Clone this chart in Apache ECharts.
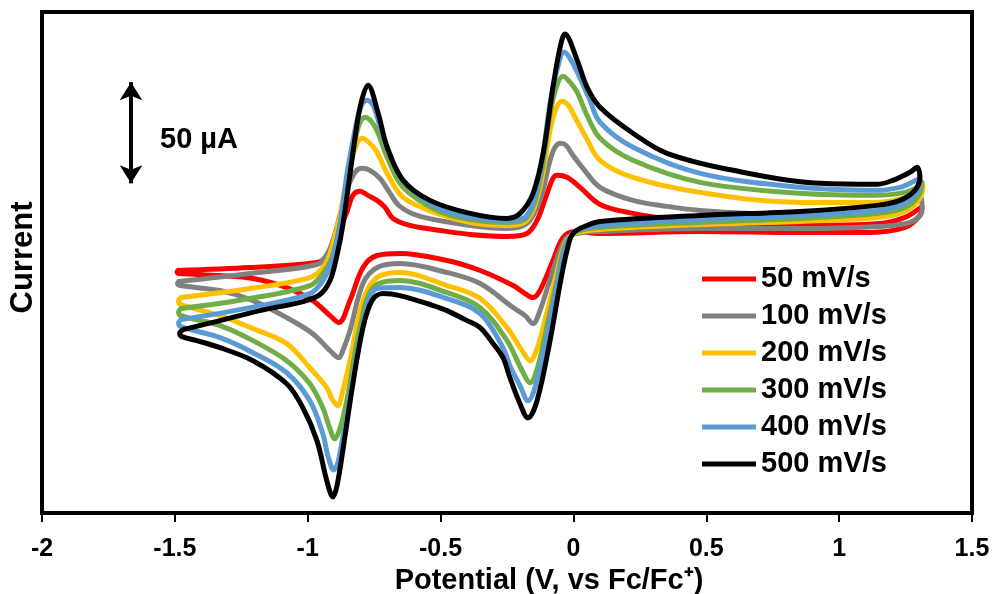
<!DOCTYPE html>
<html>
<head>
<meta charset="utf-8">
<script src="https://cdn.jsdelivr.net/npm/echarts@6/dist/echarts.min.js"></script>
<style>
html,body{margin:0;padding:0;background:#fff;}
#chart{width:995px;height:594px;}
</style>
</head>
<body>
<div id="chart"></div>
<script>
// Scan rates (legend) and colours
const scanRates = ['50 mV/s', '100 mV/s', '200 mV/s', '300 mV/s', '400 mV/s', '500 mV/s'];
const lineColors = ['#FF0000', '#808080', '#FFC000', '#70AD47', '#5B9BD5', '#000000'];

// Axis ticks
const xMin = -2, xMax = 1.5, xStep = 0.5;
const yMin = -140, yMax = 110; // current in µA (no tick labels shown)

// Scale bar: 50 µA
const scaleBarV = -1.665;
const scaleBarI = [24.5, 75];

// Cyclic voltammograms: [potential (V vs Fc/Fc+), current (µA)], forward scan, reverse scan, back to start
const cv50 = [
[-1.488,-19],[-1.217,-17.5],[-0.965,-15],[-0.928,-12],[-0.902,-5.5],[-0.879,2],[-0.853,10],[-0.830,18.5],[-0.803,20.5],[-0.773,18.5],[-0.739,16],[-0.709,12.5],[-0.679,7],[-0.615,3.5],[-0.502,1],[-0.389,-1],[-0.250,-2],[-0.175,-0.5],[-0.137,6],[-0.099,19.5],[-0.077,27],[-0.062,28.5],[-0.024,27.5],[0.025,22.5],[0.100,14],[0.224,9.5],[0.352,7],[0.552,5],[0.853,3.5],[1.153,4.5],[1.248,7.5],[1.312,13],
[1.304,8.5],[1.248,2.5],[1.116,0],[0.853,0],[0.477,0.5],[0.100,-0.5],[0.006,0.5],[-0.039,-2.5],[-0.077,-14],[-0.126,-29],[-0.152,-32.5],[-0.182,-30.5],[-0.227,-26.5],[-0.351,-19],[-0.476,-14],[-0.653,-10.5],[-0.739,-11.5],[-0.792,-17.5],[-0.841,-34],[-0.883,-45],[-0.916,-41.5],[-0.981,-34],[-1.079,-27.5],[-1.206,-23],[-1.330,-21.5],[-1.485,-20.5],[-1.492,-19.8],[-1.488,-19]
];
const cv100 = [
[-1.485,-24.5],[-1.217,-20.5],[-0.965,-16],[-0.928,-11],[-0.905,-4],[-0.879,8.5],[-0.853,21],[-0.822,30],[-0.795,32],[-0.766,31],[-0.728,27],[-0.690,19.5],[-0.653,13],[-0.577,8],[-0.389,3.5],[-0.250,2],[-0.175,4.5],[-0.126,16],[-0.088,36],[-0.069,42.5],[-0.050,44.5],[-0.028,43.5],[-0.002,38.5],[0.036,32],[0.100,22.5],[0.224,16],[0.352,13],[0.477,11],[0.665,9.5],[0.966,8.5],[1.191,9.5],[1.267,12.5],[1.308,17.5],
[1.312,11],[1.267,5],[1.142,3],[0.853,2],[0.477,2],[0.100,0.5],[0.014,-0.5],[-0.028,-3],[-0.062,-13],[-0.095,-26.5],[-0.126,-39],[-0.152,-45.5],[-0.182,-41.5],[-0.227,-37.5],[-0.351,-25.5],[-0.476,-20],[-0.653,-15.5],[-0.739,-17.5],[-0.792,-25.5],[-0.841,-49],[-0.868,-59],[-0.883,-62.5],[-0.916,-59],[-0.981,-50.5],[-1.079,-42.5],[-1.206,-34],[-1.330,-29],[-1.481,-26.5],[-1.490,-25.5],[-1.485,-24.5]
];
const cv200 = [
[-1.477,-32.5],[-1.217,-28],[-0.992,-22.5],[-0.943,-17.5],[-0.916,-10.5],[-0.879,8.5],[-0.853,26],[-0.822,42],[-0.795,47],[-0.766,44.5],[-0.739,40],[-0.701,29.5],[-0.641,17.5],[-0.513,9.5],[-0.389,5],[-0.250,3.5],[-0.175,6],[-0.126,22.5],[-0.088,51],[-0.065,62],[-0.043,65.5],[-0.020,63.5],[0.006,57.5],[0.043,48.5],[0.100,36],[0.224,27.5],[0.477,20],[0.853,15],[1.142,15],[1.248,17.5],[1.297,21],[1.316,23.5],
[1.304,17],[1.248,10.5],[1.142,7.5],[0.853,5.5],[0.477,4],[0.100,1.5],[0.006,-0.5],[-0.032,-5.5],[-0.065,-21.5],[-0.103,-41.5],[-0.133,-56.5],[-0.163,-64],[-0.193,-59],[-0.250,-47.5],[-0.351,-33],[-0.476,-26.5],[-0.653,-20],[-0.739,-22.5],[-0.792,-34],[-0.841,-64],[-0.868,-79],[-0.887,-86.5],[-0.909,-83],[-0.928,-77.5],[-0.992,-67.5],[-1.079,-55.5],[-1.206,-48],[-1.330,-41.5],[-1.477,-36],[-1.486,-34.2],[-1.477,-32.5]
];
const cv300 = [
[-1.477,-38],[-1.217,-33],[-0.992,-26.5],[-0.943,-20.5],[-0.909,-12.5],[-0.879,3.5],[-0.853,26],[-0.822,46],[-0.803,55],[-0.784,57.5],[-0.758,55],[-0.735,49.5],[-0.701,37.5],[-0.641,22.5],[-0.513,11],[-0.389,6.5],[-0.250,5],[-0.175,7.5],[-0.126,26],[-0.088,59.5],[-0.062,73.5],[-0.039,78],[-0.013,75],[0.014,70],[0.051,58.5],[0.100,47],[0.224,36],[0.477,25],[0.853,19.5],[1.142,18.5],[1.248,20],[1.293,22.5],[1.312,25],
[1.300,18.5],[1.248,12.5],[1.142,9.5],[0.853,7],[0.477,5],[0.100,2.5],[0.006,0],[-0.032,-6.5],[-0.062,-24],[-0.099,-46.5],[-0.133,-66.5],[-0.163,-75],[-0.193,-69],[-0.250,-54],[-0.351,-37.5],[-0.476,-30],[-0.653,-24],[-0.754,-27.5],[-0.803,-47.5],[-0.853,-84],[-0.879,-98],[-0.898,-103],[-0.920,-96.5],[-0.943,-87.5],[-0.992,-75.5],[-1.079,-64],[-1.206,-54],[-1.330,-46.5],[-1.477,-41.5],[-1.486,-39.8],[-1.477,-38]
];
const cv400 = [
[-1.477,-43.5],[-1.217,-37.5],[-0.992,-30.5],[-0.943,-24],[-0.909,-14],[-0.879,3.5],[-0.853,28.5],[-0.822,51],[-0.799,63],[-0.777,66],[-0.754,63.5],[-0.735,56],[-0.701,42.5],[-0.641,26],[-0.513,12.5],[-0.389,7.5],[-0.250,6],[-0.175,8.5],[-0.126,29.5],[-0.088,64.5],[-0.062,81],[-0.035,90],[-0.009,86],[0.025,77],[0.062,66],[0.100,55],[0.224,42.5],[0.477,29.5],[0.853,22.5],[1.142,21],[1.229,22.5],[1.274,25],[1.304,27],
[1.297,21],[1.248,14.5],[1.142,11],[0.853,8.5],[0.477,6.5],[0.100,3.5],[0.006,0.5],[-0.028,-6.5],[-0.058,-24],[-0.095,-49],[-0.137,-74],[-0.171,-84],[-0.201,-76.5],[-0.239,-66.5],[-0.265,-57.5],[-0.351,-40.5],[-0.476,-33],[-0.653,-27.5],[-0.739,-28],[-0.795,-47.5],[-0.853,-92.5],[-0.868,-102.5],[-0.887,-115],[-0.902,-118.5],[-0.924,-111.5],[-0.943,-100.5],[-0.992,-84],[-1.079,-70],[-1.206,-60],[-1.330,-52.5],[-1.477,-47],[-1.486,-45.2],[-1.477,-43.5]
];
const cv500 = [
[-1.469,-48.5],[-1.330,-44],[-1.180,-39],[-1.018,-34.5],[-0.954,-31],[-0.916,-24],[-0.890,-11.5],[-0.868,3.5],[-0.830,39.5],[-0.803,62.5],[-0.773,73.5],[-0.735,59.5],[-0.701,42.5],[-0.641,26],[-0.540,16],[-0.389,9.5],[-0.250,7],[-0.201,9.5],[-0.152,19.5],[-0.114,39.5],[-0.077,72.5],[-0.050,92.5],[-0.032,99],[0.014,86],[0.051,72.5],[0.100,62.5],[0.224,49.5],[0.352,39.5],[0.601,31],[0.928,24.5],[1.142,24],[1.202,26],[1.267,30],[1.293,32.5],
[1.304,27.5],[1.285,21],[1.229,16],[1.142,13.5],[0.853,10.5],[0.477,8.5],[0.100,5.5],[0.051,3.5],[-0.002,-0.5],[-0.024,-9],[-0.050,-25.5],[-0.088,-54],[-0.137,-84],[-0.171,-92.5],[-0.201,-85.5],[-0.239,-72.5],[-0.265,-62.5],[-0.302,-55.5],[-0.351,-47.5],[-0.400,-44],[-0.476,-39],[-0.528,-36.5],[-0.653,-31.5],[-0.717,-30.5],[-0.758,-34],[-0.792,-47.5],[-0.830,-75.5],[-0.868,-109],[-0.890,-126.5],[-0.905,-132],[-0.928,-124],[-0.965,-104],[-1.018,-87.5],[-1.079,-75.5],[-1.206,-64],[-1.330,-57.5],[-1.417,-54],[-1.473,-52],[-1.482,-50.3],[-1.469,-48.5]
];
const cvData = [cv50, cv100, cv200, cv300, cv400, cv500];

const FONT = '"Liberation Sans", Arial, sans-serif';
const chart = echarts.init(document.getElementById('chart'), null, {renderer: 'canvas'});

const series = cvData.map((d, k) => ({
  name: scanRates[k],
  type: 'line',
  data: d,
  smooth: 0.35,
  showSymbol: false,
  symbol: 'none',
  lineStyle: {color: lineColors[k], width: 5, cap: 'round', join: 'round'},
  itemStyle: {color: lineColors[k]},
  z: 2 + k
}));

// scale bar arrow as markLine
series.push({
  type: 'line',
  data: [],
  silent: true,
  markLine: {
    silent: true,
    animation: false,
    symbol: ['arrow', 'arrow'],
    symbolSize: [17, 18],
    label: {show: false},
    lineStyle: {color: '#000', width: 4, type: 'solid'},
    data: [[{coord: [scaleBarV, scaleBarI[0]]}, {coord: [scaleBarV, scaleBarI[1]]}]]
  }
});

chart.setOption({
  animation: false,
  backgroundColor: '#fff',
  grid: {left: 42, right: 23, top: 12, bottom: 81, show: true, borderColor: '#000', borderWidth: 4, containLabel: false, outerBoundsMode: 'none'},
  legend: {
    data: scanRates,
    orient: 'vertical',
    left: 697,
    top: 259,
    itemWidth: 54,
    itemHeight: 5,
    itemGap: 7,
    icon: 'path://M0,0 L54,0 L54,5 L0,5 Z',
    textStyle: {fontFamily: FONT, fontWeight: 'bold', fontSize: 29, color: '#000', lineHeight: 30, padding: [0,0,0,0]},
    selectedMode: false
  },
  xAxis: {
    type: 'value',
    min: xMin, max: xMax, interval: xStep,
    name: 'Potential (V, vs Fc/Fc\u207A)',
    nameLocation: 'middle',
    nameGap: 50,
    nameTextStyle: {fontFamily: FONT, fontWeight: 'bold', fontSize: 29, color: '#000', padding: [0, 0, 0, 84]},
    axisLine: {show: true, onZero: false, lineStyle: {color: '#000', width: 4}},
    axisTick: {show: true, inside: false, length: 9, lineStyle: {color: '#000', width: 2}},
    axisLabel: {fontFamily: FONT, fontWeight: 'bold', fontSize: 25, color: '#000', margin: 24},
    splitLine: {show: false}
  },
  yAxis: {
    type: 'value',
    min: yMin, max: yMax,
    name: 'Current',
    nameLocation: 'middle',
    nameGap: 3,
    nameTextStyle: {fontFamily: FONT, fontWeight: 'bold', fontSize: 31, color: '#000', padding: [0, 0, 0, 10]},
    axisLine: {show: true, onZero: false, lineStyle: {color: '#000', width: 4}},
    axisTick: {show: false},
    axisLabel: {show: false},
    splitLine: {show: false}
  },
  graphic: [{
    type: 'text',
    left: 160,
    top: 125,
    style: {text: '50 \u00B5A', fontFamily: FONT, fontWeight: 'bold', fontSize: 29, fill: '#000'}
  }],
  series: series
});
</script>
</body>
</html>
